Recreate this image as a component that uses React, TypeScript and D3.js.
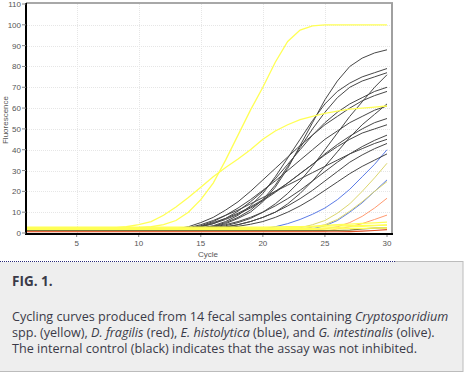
import * as d3 from "d3";

// Cycle numbers (x axis)
const cycles = d3.range(1, 31);

const yTicks = [0, 10, 20, 30, 40, 50, 60, 70, 80, 90, 100, 110];
const xTicks = [5, 10, 15, 20, 25, 30];

// internal control (black), one value per cycle 1..30
const controlCurves: number[][] = [
  [1.5, 1.5, 1.5, 1.5, 1.5, 1.5, 1.5, 1.5, 1.5, 1.5, 1.5, 1.5, 1.5, 1.8, 2.2, 3, 4.5, 7, 10, 15, 22, 31, 42, 53, 64, 73, 80, 84, 86.5, 88],
  [1.6, 1.6, 1.6, 1.6, 1.6, 1.6, 1.6, 1.6, 1.6, 1.6, 1.6, 1.6, 1.6, 2, 2.5, 3.5, 5.5, 8.5, 13, 19, 27, 36, 45, 54, 62, 68, 72, 75, 77, 79],
  [1.5, 1.5, 1.5, 1.5, 1.5, 1.5, 1.5, 1.5, 1.5, 1.5, 1.5, 1.5, 1.5, 1.8, 2.3, 3.2, 5, 7.5, 11, 16, 23, 32, 41, 50, 58, 65, 70, 73, 75, 77],
  [1.6, 1.6, 1.6, 1.6, 1.6, 1.6, 1.6, 1.6, 1.6, 1.6, 1.6, 1.6, 1.6, 2, 3, 4.5, 7, 10.5, 15, 20, 26, 33, 40, 47, 53, 58, 62, 65, 68, 70],
  [1.4, 1.4, 1.4, 1.4, 1.4, 1.4, 1.4, 1.4, 1.4, 1.4, 1.4, 1.4, 1.4, 1.5, 1.8, 2.2, 3, 4, 5.5, 7.5, 10, 14, 19, 25, 32, 39, 46, 52, 57, 62],
  [1.6, 1.6, 1.6, 1.6, 1.6, 1.6, 1.6, 1.6, 1.6, 1.6, 1.6, 1.6, 1.6, 2.2, 3.5, 5.5, 8.5, 12, 16, 20.5, 25, 30, 35, 40, 45, 49, 53, 56, 59, 61],
  [1.5, 1.5, 1.5, 1.5, 1.5, 1.5, 1.5, 1.5, 1.5, 1.5, 1.5, 1.5, 1.5, 2, 3, 4.5, 6.5, 9, 12, 15.5, 19.5, 24, 28.5, 33, 37.5, 41.5, 45, 48, 50, 52],
  [1.5, 1.5, 1.5, 1.5, 1.5, 1.5, 1.5, 1.5, 1.5, 1.5, 1.5, 1.5, 1.5, 1.7, 2, 2.8, 4, 5.5, 7.5, 10, 13, 16.5, 20.5, 25, 29.5, 34, 38, 41.5, 44.5, 47],
  [1.7, 1.7, 1.7, 1.7, 1.7, 1.7, 1.7, 1.7, 1.7, 1.7, 1.7, 1.7, 1.7, 2.5, 4, 6, 8.5, 11, 14, 17, 20, 23, 26, 29, 32, 35, 38, 40.5, 43, 45],
  [1.4, 1.4, 1.4, 1.4, 1.4, 1.4, 1.4, 1.4, 1.4, 1.4, 1.4, 1.4, 1.4, 1.5, 1.7, 2, 2.8, 4, 5.5, 7.5, 10, 13, 16.5, 20.5, 25, 29.5, 34, 37.5, 40.5, 43],
  [1.5, 1.5, 1.5, 1.5, 1.5, 1.5, 1.5, 1.5, 1.5, 1.5, 1.5, 1.5, 1.5, 1.6, 1.8, 2, 2.5, 3.2, 4.2, 5.5, 7.5, 10, 13, 16.5, 20.5, 24.5, 28.5, 32, 35, 38],
  [1.6, 1.6, 1.6, 1.6, 1.6, 1.6, 1.6, 1.6, 1.6, 1.6, 1.6, 1.6, 2, 3, 5, 7.5, 11, 15, 20, 25.5, 31, 36.5, 42, 47, 52, 56, 60, 63.5, 66, 68],
  [1.5, 1.5, 1.5, 1.5, 1.5, 1.5, 1.5, 1.5, 1.5, 1.5, 1.5, 1.5, 1.5, 2.2, 3.2, 5, 7, 9.5, 12.5, 16, 20, 24, 28.5, 33, 38, 42.5, 46.5, 50, 53, 55],
  [1.5, 1.5, 1.5, 1.5, 1.5, 1.5, 1.5, 1.5, 1.5, 1.5, 1.5, 1.5, 1.5, 1.7, 2, 2.5, 3.5, 5, 7, 10, 14, 19, 25, 32, 40, 48, 56, 63, 70, 76],
];

// Cryptosporidium spp. (yellow)
const cryptoCurves: number[][] = [
  [2.3, 2.3, 2.3, 2.3, 2.3, 2.3, 2.3, 2.3, 2.4, 2.6, 3, 4, 6, 10, 16, 24, 35, 47, 59, 70, 82, 92, 97.5, 99.5, 100, 100, 100, 100, 100, 100],
  [2.2, 2.2, 2.2, 2.2, 2.2, 2.2, 2.2, 2.4, 3, 4, 5.5, 8.5, 12.5, 17, 22, 27, 31.5, 35.5, 40, 45, 49, 52, 54.5, 56, 57.5, 58.5, 59.5, 60, 60.5, 61],
  [2.5, 2.5, 2.5, 2.5, 2.5, 2.5, 2.5, 2.5, 2.5, 2.5, 2.5, 2.5, 2.5, 2.5, 2.5, 2.5, 2.5, 2.5, 2.5, 2.5, 2.5, 2.5, 2.8, 3.2, 3.6, 4, 4.3, 4.6, 4.9, 5.2],
  [2.8, 2.8, 2.8, 2.8, 2.8, 2.8, 2.8, 2.8, 2.8, 2.8, 2.8, 2.8, 2.8, 2.8, 2.8, 2.8, 2.8, 2.8, 2.8, 2.8, 2.9, 3, 3.1, 3.2, 3.3, 3.4, 3.5, 3.6, 3.7, 3.8],
  [2.2, 2.2, 2.2, 2.2, 2.2, 2.2, 2.2, 2.2, 2.2, 2.2, 2.2, 2.2, 2.2, 2.2, 2.2, 2.2, 2.2, 2.2, 2.2, 2.2, 2.2, 2.2, 2.2, 2.2, 2.4, 2.6, 2.9, 3.2, 3.5, 3.9],
  [1.8, 1.8, 1.8, 1.8, 1.8, 1.8, 1.8, 1.8, 1.8, 1.8, 1.8, 1.8, 1.8, 1.8, 1.8, 1.8, 1.8, 1.8, 1.8, 1.8, 1.8, 1.8, 1.8, 1.8, 1.9, 2, 2.1, 2.2, 2.3, 2.4],
];

// D. fragilis (red)
const fragilisCurves: number[][] = [
  [0.8, 0.8, 0.8, 0.8, 0.8, 0.8, 0.8, 0.8, 0.8, 0.8, 0.8, 0.8, 0.8, 0.8, 0.8, 0.8, 0.8, 0.8, 0.8, 0.8, 0.8, 0.8, 0.8, 1.3, 2, 3, 5, 8, 12, 16.7],
  [0.8, 0.8, 0.8, 0.8, 0.8, 0.8, 0.8, 0.8, 0.8, 0.8, 0.8, 0.8, 0.8, 0.8, 0.8, 0.8, 0.8, 0.8, 0.8, 0.8, 0.8, 0.8, 0.8, 0.8, 0.8, 2, 3, 4.5, 6.5, 8.6],
  [0.6, 0.6, 0.6, 0.6, 0.6, 0.6, 0.6, 0.6, 0.6, 0.6, 0.6, 0.6, 0.6, 0.6, 0.6, 0.6, 0.6, 0.6, 0.6, 0.6, 0.6, 0.6, 0.6, 0.6, 0.6, 0.6, 0.7, 0.9, 1.2, 1.6],
];

// E. histolytica (blue)
const histolyticaCurves: number[][] = [
  [1.5, 1.5, 1.5, 1.5, 1.5, 1.5, 1.5, 1.5, 1.5, 1.5, 1.5, 1.5, 1.5, 1.5, 1.5, 1.5, 1.5, 1.5, 1.6, 2, 3, 4.5, 6.5, 9, 12, 16, 21, 27, 33, 40],
  [1.5, 1.5, 1.5, 1.5, 1.5, 1.5, 1.5, 1.5, 1.5, 1.5, 1.5, 1.5, 1.5, 1.5, 1.5, 1.5, 1.5, 1.5, 1.5, 1.5, 1.5, 1.5, 1.5, 2, 3.5, 6, 10, 14.5, 20, 25.5],
];

// G. intestinalis (olive)
const intestinalisCurves: number[][] = [
  [2, 2, 2, 2, 2, 2, 2, 2, 2, 2, 2, 2, 2, 2, 2, 2, 2, 2, 2, 2, 2, 2, 2.5, 4, 6, 9.5, 14, 20, 26.5, 33.5],
  [2, 2, 2, 2, 2, 2, 2, 2, 2, 2, 2, 2, 2, 2, 2, 2, 2, 2, 2, 2, 2, 2, 2, 2.8, 4, 6.5, 10.5, 15, 20, 24.7],
  [1.2, 1.2, 1.2, 1.2, 1.2, 1.2, 1.2, 1.2, 1.2, 1.2, 1.2, 1.2, 1.2, 1.2, 1.2, 1.2, 1.2, 1.2, 1.2, 1.2, 1.2, 1.2, 1.2, 1.2, 1.2, 1.2, 1.4, 2, 2.3, 2.5],
];

const W = 465;
const H = 374;

export default function App() {
  const x = d3.scaleLinear().domain([1, 30]).range([27, 387]);
  const y = d3.scaleLinear().domain([0, 110]).range([233, 4]);
  const line = d3
    .line<number>()
    .x((_, i) => x(cycles[i]))
    .y((d) => y(d));

  const groups = [
    { curves: histolyticaCurves, color: "#5b7be6", width: 1, opacity: 1 },
    { curves: fragilisCurves.slice(0, 2), color: "#ff9a70", width: 1, opacity: 1 },
    { curves: controlCurves, color: "#1a1a1a", width: 1, opacity: 0.8 },
    { curves: intestinalisCurves.slice(0, 2), color: "#dcd66e", width: 1, opacity: 1 },
    { curves: intestinalisCurves.slice(2), color: "#7a7a3a", width: 1.2, opacity: 1 },
    { curves: fragilisCurves.slice(2), color: "#e0502a", width: 1.2, opacity: 1 },
    { curves: cryptoCurves, color: "#ffff55", width: 1.3, opacity: 1 },
  ];

  const font = "'Liberation Sans', Arial, sans-serif";
  const cap = "'Open Sans', 'DejaVu Sans', sans-serif";

  return (
    <svg
      width={W}
      height={H}
      style={{ position: "absolute", left: 0, top: 0, background: "#fff" }}
    >
      {/* grid */}
      <g stroke="#e6e6e6" strokeWidth={1} strokeDasharray="1,1">
        {yTicks.slice(1, -1).map((t) => (
          <line key={"gy" + t} x1={27} x2={391} y1={Math.round(y(t)) + 0.5} y2={Math.round(y(t)) + 0.5} />
        ))}
        {xTicks.slice(0, -1).map((t) => (
          <line key={"gx" + t} x1={Math.round(x(t)) + 0.5} x2={Math.round(x(t)) + 0.5} y1={4} y2={233} />
        ))}
      </g>

      {/* curves */}
      {groups.map((g, gi) => (
        <g key={gi} fill="none" stroke={g.color} strokeWidth={g.width} opacity={g.opacity}>
          {g.curves.map((c, i) => (
            <path key={i} d={line(c) ?? ""} />
          ))}
        </g>
      ))}

      {/* frame */}
      <line x1={26} x2={393} y1={3} y2={3} stroke="#a8a8a8" strokeWidth={2} />
      <line x1={392} x2={392} y1={3} y2={235} stroke="#a0a0a0" strokeWidth={2} />
      <line x1={26} x2={26} y1={3} y2={235} stroke="#000" strokeWidth={2} />
      <line x1={25} x2={393} y1={234} y2={234} stroke="#000" strokeWidth={2} />

      {/* y axis */}
      <g fontFamily={font} fontSize={8} fill="#555" textAnchor="end">
        {yTicks.map((t) => (
          <g key={"y" + t}>
            <line x1={22} x2={26} y1={y(t)} y2={y(t)} stroke="#888" />
            <text x={21} y={y(t) + 3}>
              {t}
            </text>
          </g>
        ))}
      </g>
      {/* x axis */}
      <g fontFamily={font} fontSize={8} fill="#555" textAnchor="middle">
        {xTicks.map((t) => (
          <g key={"x" + t}>
            <line x1={x(t)} x2={x(t)} y1={235} y2={237} stroke="#888" />
            <text x={x(t)} y={246}>
              {t}
            </text>
          </g>
        ))}
      </g>
      <text x={208} y={256.5} fontFamily={font} fontSize={8} fill="#555" textAnchor="middle">
        Cycle
      </text>
      <text
        transform="translate(8,120) rotate(-90)"
        fontFamily={font}
        fontSize={8}
        fill="#555"
        textAnchor="middle"
      >
        Fluorescence
      </text>

      {/* caption box */}
      <rect x={-1} y={261.5} width={464} height={110} fill="#eeeeee" stroke="#bcbcbc" strokeWidth={1} />
      <line x1={0} x2={395} y1={261.5} y2={261.5} stroke="#fff" strokeWidth={1} />
      <line x1={0} x2={395} y1={261.5} y2={261.5} stroke="#2a2a7a" strokeWidth={1} strokeDasharray="1,1" />

      <text x={12} y={286} fontFamily={cap} fontSize={13.5} fontWeight="bold" fill="#3a3a48">
        FIG. 1.
      </text>
      <g fontFamily={cap} fontSize={12.6} fill="#3a3a48">
        <text x={12} y={321}>
          Cycling curves produced from 14 fecal samples containing{" "}
          <tspan fontStyle="italic">Cryptosporidium</tspan>
        </text>
        <text x={12} y={337}>
          spp. (yellow), <tspan fontStyle="italic">D. fragilis</tspan> (red),{" "}
          <tspan fontStyle="italic">E. histolytica</tspan> (blue), and{" "}
          <tspan fontStyle="italic">G. intestinalis</tspan> (olive).
        </text>
        <text x={12} y={353}>
          The internal control (black) indicates that the assay was not inhibited.
        </text>
      </g>
    </svg>
  );
}
